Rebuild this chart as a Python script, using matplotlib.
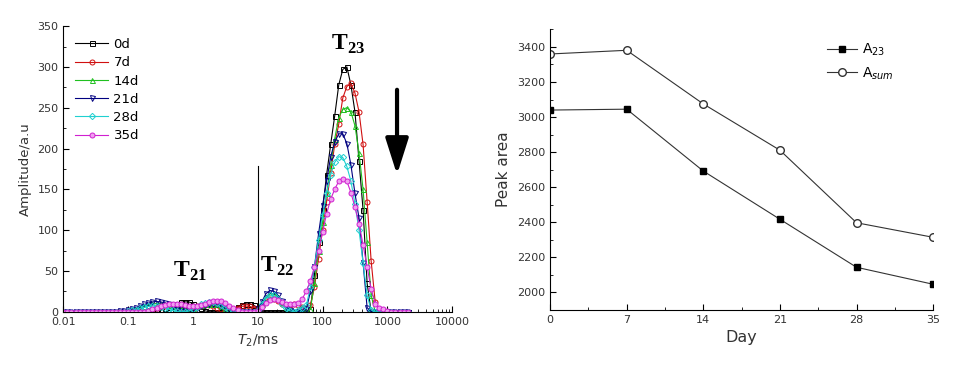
import numpy as np
import matplotlib
matplotlib.use("Agg")
import matplotlib.pyplot as plt
from matplotlib.ticker import MultipleLocator, LogLocator, NullFormatter, FixedLocator

# T2 grid (ms), 16 points per decade
t2 = [0.01, 0.01155, 0.01334, 0.0154, 0.01778, 0.02054, 0.02371, 0.02738,
      0.03162, 0.03652, 0.04217, 0.0487, 0.05623, 0.06494, 0.07499, 0.0866,
      0.1, 0.1155, 0.1334, 0.154, 0.1778, 0.2054, 0.2371, 0.2738,
      0.3162, 0.3652, 0.4217, 0.487, 0.5623, 0.6494, 0.7499, 0.866,
      1.0, 1.155, 1.334, 1.54, 1.778, 2.054, 2.371, 2.738,
      3.162, 3.652, 4.217, 4.87, 5.623, 6.494, 7.499, 8.66,
      10.0, 11.55, 13.34, 15.4, 17.78, 20.54, 23.71, 27.38,
      31.62, 36.52, 42.17, 48.7, 56.23, 64.94, 74.99, 86.6,
      100.0, 115.5, 133.4, 154.0, 177.8, 205.4, 237.1, 273.8,
      316.2, 365.2, 421.7, 487.0, 562.3, 649.4, 749.9, 866.0,
      1000.0, 1155.0, 1334.0, 1540.0, 1778.0, 2054.0]

zeros16 = [0] * 16
amp_0d = (zeros16
          + [0, 0, 0, 0, 0, 0, 0, 1, 2, 4, 6, 8, 10, 11.5, 12, 12]
          + [10, 7, 4, 1, 0, 0, 0, 0, 0, 0, 2, 6, 8.5, 9.5, 9.5, 8]
          + [4, 0, 0, 0, 0, 0, 0, 0, 0, 0, 0, 0, 0, 3, 45, 85]
          + [125, 168, 205, 240, 278, 297, 300, 278, 245, 185, 125, 35, 0, 0, 0, 0]
          + [0, 0, 0, 0, 0, 0])
amp_7d = (zeros16
          + [0, 0, 0, 0, 0, 1, 2, 4, 6, 7.5, 8, 8, 7, 6, 5, 5]
          + [5.5, 6.5, 7.5, 8, 8, 7, 5, 3, 2, 2, 3, 5, 6.5, 7, 6.5, 5]
          + [5, 8, 13, 15, 15, 13, 10, 8, 8, 9, 8, 6, 5, 8, 30, 65]
          + [100, 135, 170, 205, 230, 262, 276, 280, 268, 245, 205, 135, 62, 12, 2, 0]
          + [0, 0, 0, 0, 0, 0])
amp_14d = (zeros16
           + [1, 2, 3, 5, 7, 8.5, 9.5, 10, 10, 9.5, 8.5, 7, 5.5, 4, 3.5, 4]
           + [5, 7, 8.5, 9.5, 10, 10, 9, 7, 4.5, 2, 0.5, 0, 0, 0, 0, 0]
           + [2, 10, 18, 22, 22, 18, 12, 6, 2, 0, 0, 0, 1, 3, 35, 75]
           + [110, 145, 180, 212, 238, 248, 250, 245, 228, 195, 150, 85, 20, 0, 0, 0]
           + [0, 0, 0, 0, 0, 0])
amp_21d = ([0] * 14 + [0.5, 1]
           + [2, 3, 5, 7, 9, 10.5, 12, 12.5, 12, 11, 9, 7, 5, 3, 2, 2]
           + [3, 5, 7, 8.5, 9.5, 10, 9.5, 7.5, 5, 2.5, 1, 0, 0, 0, 0, 0]
           + [3, 12, 22, 26, 25, 20, 13, 6, 2, 0, 0, 2, 3, 25, 55, 95]
           + [130, 160, 190, 208, 218, 218, 206, 180, 145, 115, 60, 5, 0, 0, 0, 0]
           + [0, 0, 0, 0, 0, 0])
amp_28d = (zeros16
           + [1, 1.5, 2.5, 4, 5.5, 6.5, 7, 7, 6, 4.5, 3, 1.5, 0.5, 0, 0, 1]
           + [3, 6, 9, 11, 12, 12, 11, 8.5, 5.5, 2.5, 1, 0, 0, 0, 0, 0]
           + [2, 9, 16, 20, 20, 16, 10, 4, 1, 0, 2, 5, 8, 30, 55, 88]
           + [118, 145, 168, 183, 190, 189, 178, 160, 132, 100, 60, 20, 2, 0, 0, 0]
           + [0, 0, 0, 0, 0, 0])
amp_35d = (zeros16
           + [0, 0, 0, 0, 0, 1, 3, 5, 7, 8.5, 9.5, 10, 10, 9.5, 8.5, 7.5]
           + [7, 7.5, 8.5, 10, 11.5, 12.5, 13, 12.5, 10.5, 7.5, 4, 1.5, 0, 0, 0, 0]
           + [1, 6, 11, 14, 15, 14, 12, 10, 9, 9, 11, 16, 25, 38, 55, 75]
           + [98, 120, 138, 150, 160, 163, 160, 146, 128, 108, 82, 55, 28, 10, 5, 3]
           + [1, 0, 0, 0, 0, 0])

days = [0, 7, 14, 21, 28, 35]
a23 = [3040, 3045, 2692, 2417, 2143, 2046]
asum = [3360, 3381, 3075, 2811, 2397, 2314]

series = [
    ("0d", amp_0d, "black", "s", "none"),
    ("7d", amp_7d, "#d01010", "o", "none"),
    ("14d", amp_14d, "#20c020", "^", "none"),
    ("21d", amp_21d, "#000080", "v", "none"),
    ("28d", amp_28d, "#20d0d0", "D", "none"),
    ("35d", amp_35d, "#d020d0", "o", "#f0a0f0"),
]

tick_color = "#333333"
fig = plt.figure(figsize=(9.6, 3.68), dpi=100)

# left panel: T2 distributions
ax1 = fig.add_axes([0.066, 0.153, 0.405, 0.776])
for label, amp, col, mk, fc in series:
    ms = 3.2 if mk == "D" else 3.6
    ax1.plot(t2, amp, color=col, lw=0.8, marker=mk, ms=ms, mfc=fc, mec=col,
             mew=0.7, label=label)
ax1.set_xscale("log")
ax1.set_xlim(0.01, 10000)
ax1.set_ylim(0, 350)
ax1.yaxis.set_major_locator(MultipleLocator(50))
ax1.yaxis.set_minor_locator(MultipleLocator(25))
ax1.xaxis.set_major_locator(FixedLocator([0.01, 0.1, 1, 10, 100, 1000, 10000]))
ax1.xaxis.set_minor_locator(LogLocator(base=10, subs=np.arange(2, 10), numticks=20))
ax1.xaxis.set_minor_formatter(NullFormatter())
ax1.set_xticklabels(["0.01", "0.1", "1", "10", "100", "1000", "10000"])
ax1.spines["top"].set_visible(False)
ax1.spines["right"].set_visible(False)
ax1.tick_params(which="both", direction="in", labelsize=8, labelcolor=tick_color)
ax1.tick_params(which="major", length=4)
ax1.tick_params(which="minor", length=2.5)
ax1.set_ylabel("Amplitude/a.u", fontsize=9.5, color=tick_color)
ax1.set_xlabel(r"$\mathit{T}_{2}$/ms", fontsize=10, color=tick_color)
ax1.legend(loc="upper left", bbox_to_anchor=(0.0, 1.0), frameon=False, fontsize=9.5,
           handlelength=2.5, labelspacing=0.4, handletextpad=0.4)

ax1.plot([10, 10], [0, 178], color="black", lw=0.8)
peak_font = dict(family="Liberation Serif", fontsize=17, fontweight="bold",
                 ha="center", va="center")
ax1.text(0.9, 50, r"T$_{\mathregular{21}}$", **peak_font)
ax1.text(20, 56, r"T$_{\mathregular{22}}$", **peak_font)
ax1.text(250, 327, r"T$_{\mathregular{23}}$", **peak_font)
ax1.annotate("", xy=(1410, 168), xytext=(1410, 272),
             arrowprops=dict(arrowstyle="-|>,head_width=0.35,head_length=1.1",
                             lw=3, color="black", mutation_scale=20,
                             shrinkA=0, shrinkB=0))

# right panel: peak areas
ax2 = fig.add_axes([0.573, 0.158, 0.399, 0.762])
ax2.plot(days, a23, color="#333333", lw=0.8, marker="s", ms=5, mfc="black",
         mec="black", label=r"A$_{23}$")
ax2.plot(days, asum, color="#333333", lw=0.8, marker="o", ms=5.5, mfc="white",
         mec="#333333", label=r"A$_{sum}$")
ax2.set_xlim(0, 35)
ax2.set_ylim(1900, 3500)
ax2.xaxis.set_major_locator(MultipleLocator(7))
ax2.xaxis.set_minor_locator(MultipleLocator(3.5))
ax2.yaxis.set_major_locator(MultipleLocator(200))
ax2.yaxis.set_minor_locator(MultipleLocator(100))
ax2.spines["top"].set_visible(False)
ax2.spines["right"].set_visible(False)
ax2.tick_params(which="both", direction="in", labelsize=8, labelcolor=tick_color)
ax2.tick_params(which="major", length=4)
ax2.tick_params(which="minor", length=2.5)
ax2.set_ylabel("Peak area", fontsize=11, color=tick_color)
ax2.set_xlabel("Day", fontsize=11.5, color=tick_color)
ax2.legend(loc="upper left", bbox_to_anchor=(0.69, 1.0), frameon=False, fontsize=10,
           handlelength=2.2, labelspacing=0.5, handletextpad=0.3)

fig.savefig("out.png", dpi=100)
